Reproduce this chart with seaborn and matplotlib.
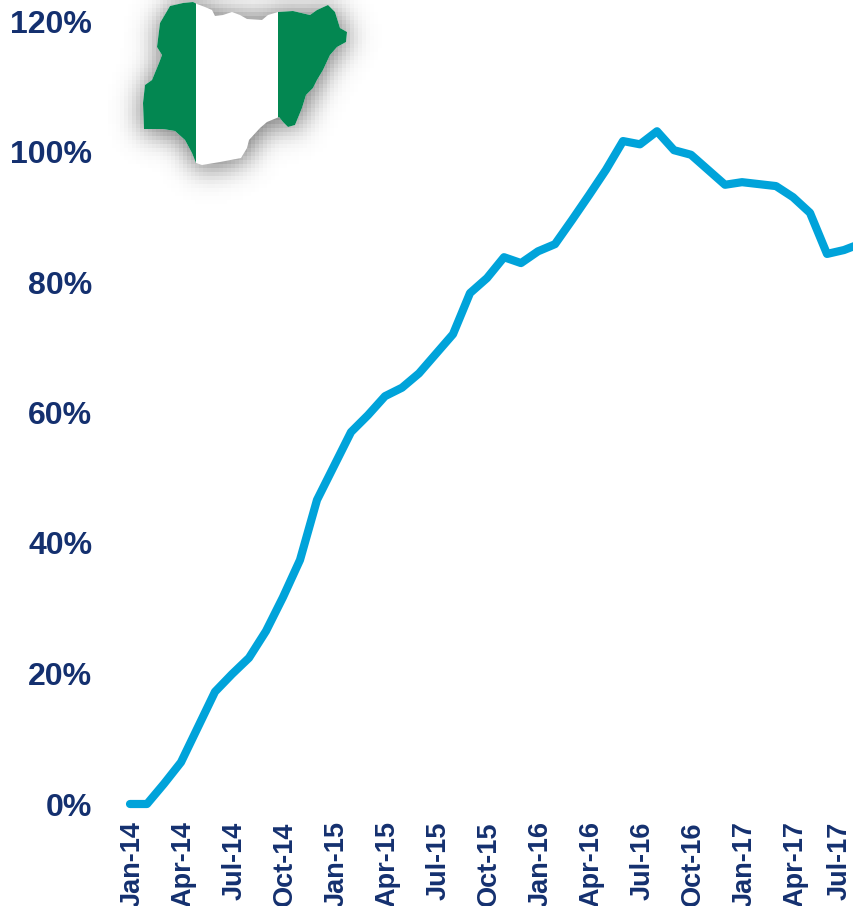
import numpy as np
import pandas as pd
import seaborn as sns
from matplotlib import pyplot as plt
from matplotlib.patches import Polygon, Rectangle
from matplotlib.path import Path
from matplotlib.transforms import ScaledTranslation

# share of index by month (Aug-17 runs off the right edge)
months = ['Jan-14', 'Feb-14', 'Mar-14', 'Apr-14', 'May-14', 'Jun-14', 'Jul-14', 'Aug-14', 'Sep-14', 'Oct-14', 'Nov-14', 'Dec-14',
          'Jan-15', 'Feb-15', 'Mar-15', 'Apr-15', 'May-15', 'Jun-15', 'Jul-15', 'Aug-15', 'Sep-15', 'Oct-15', 'Nov-15', 'Dec-15',
          'Jan-16', 'Feb-16', 'Mar-16', 'Apr-16', 'May-16', 'Jun-16', 'Jul-16', 'Aug-16', 'Sep-16', 'Oct-16', 'Nov-16', 'Dec-16',
          'Jan-17', 'Feb-17', 'Mar-17', 'Apr-17', 'May-17', 'Jun-17', 'Jul-17', 'Aug-17']
values = [0.0, 0.0, 3.1, 6.4, 11.8, 17.2, 19.9, 22.4, 26.5, 31.7, 37.4, 46.6,
          51.8, 57.0, 59.6, 62.5, 63.8, 66.0, 69.0, 72.0, 78.3, 80.6, 83.8, 82.9,
          84.7, 85.8, 89.5, 93.3, 97.2, 101.6, 101.1, 103.1, 100.2, 99.5, 97.2, 94.9,
          95.3, 95.0, 94.7, 93.0, 90.6, 84.3, 84.9, 85.9]
y_ticks = [0, 20, 40, 60, 80, 100, 120]

# outline of the map in picture pixels
map_outline = [(170, 6), (183, 3), (193, 2), (197, 4), (205, 7), (212, 10), (215, 16), (223, 15), (232, 12), (240, 15),
               (247, 19), (262, 20), (268, 15), (278, 12), (293, 11), (310, 15), (317, 10), (328, 5), (335, 12), (340, 28),
               (347, 32), (346, 42), (337, 47), (330, 55), (323, 70), (317, 80), (313, 88), (306, 95), (302, 108), (295, 125),
               (288, 127), (283, 122), (279, 117), (267, 122), (260, 128), (249, 140), (247, 148), (241, 158), (220, 162),
               (202, 165), (196, 163), (192, 153), (185, 140), (175, 131), (163, 129), (144, 129), (143, 103), (145, 85),
               (152, 80), (159, 63), (162, 55), (157, 47), (160, 23)]

NAVY = '#14306F'
BLUE = '#00A3DA'
GREEN = '#038751'

sns.set_style('white')
plt.rcParams['font.family'] = ['Liberation Sans', 'DejaVu Sans']

W, H = 854, 906
fig = plt.figure(figsize=(W / 100, H / 100), dpi=100)
ax = fig.add_axes([121.5 / W, (H - 804) / H, (W - 121.5) / W, (804 - 21) / H])

df = pd.DataFrame({'month': months, 'value': values})
sns.lineplot(data=df, x='month', y='value', sort=False, color=BLUE, linewidth=5.9,
             solid_capstyle='round', solid_joinstyle='round', clip_on=False, ax=ax)

ax.set_xlim(-0.5, (W - 130) / 17)
ax.set_ylim(0, 120)
ax.set_xticks(range(0, len(months), 3))
ax.set_xticklabels(months[::3], rotation=90, fontsize=19.5, fontweight='bold', color=NAVY)
ax.set_yticks(y_ticks)
ax.set_yticklabels([str(v) + '%' for v in y_ticks], fontsize=23, fontweight='bold', color=NAVY)
ax.tick_params(axis='x', length=0, pad=12.5)
ax.tick_params(axis='y', length=0, pad=21)
ax.set_xlabel('')
ax.set_ylabel('')
sns.despine(ax=ax, left=True, bottom=True, top=True, right=True)

# rotated labels sit a little left of the ticks, nudge them, but keep the last one inside the figure
for label in ax.get_xticklabels():
    shift = -3.5 if label.get_text() == 'Jul-17' else 1.5
    label.set_transform(label.get_transform() + ScaledTranslation(shift / 72, 0, fig.dpi_scale_trans))

# flag map goes on an overlay in pixel coordinates
flag = fig.add_axes([0, 0, 1, 1], zorder=5)
flag.set_xlim(0, W)
flag.set_ylim(H, 0)
flag.axis('off')
flag.patch.set_alpha(0)

# soft grey shadow behind the map
x0, x1, y0, y1 = 80, 410, -60, 240
cell = 4
xs, ys = np.meshgrid(np.arange(x0, x1, cell), np.arange(y0, y1, cell))
mask = Path(map_outline).contains_points(np.c_[xs.ravel(), ys.ravel()]).reshape(xs.shape).astype(float)
kernel = np.exp(-0.5 * (np.arange(-12, 13) / 3.2) ** 2)
kernel = kernel / kernel.sum()
for axis in (0, 1):
    mask = np.apply_along_axis(lambda r: np.convolve(r, kernel, mode='same'), axis, mask)
shadow = np.zeros(mask.shape + (4,))
shadow[..., :3] = 0.5
shadow[..., 3] = np.clip(mask ** 0.85 * 1.15, 0, 1)
flag.imshow(shadow, extent=[x0, x1, y1, y0], interpolation='nearest', aspect='auto')
flag.set_xlim(0, W)
flag.set_ylim(H, 0)

outline = Polygon(map_outline, closed=True, facecolor='white', edgecolor='none')
flag.add_patch(outline)
for left, right in [(140, 196.5), (278.5, 350)]:
    band = Rectangle((left, 0), right - left, 170, facecolor=GREEN, edgecolor='none')
    flag.add_patch(band)
    band.set_clip_path(outline)

fig.savefig('out.png', dpi=100)
